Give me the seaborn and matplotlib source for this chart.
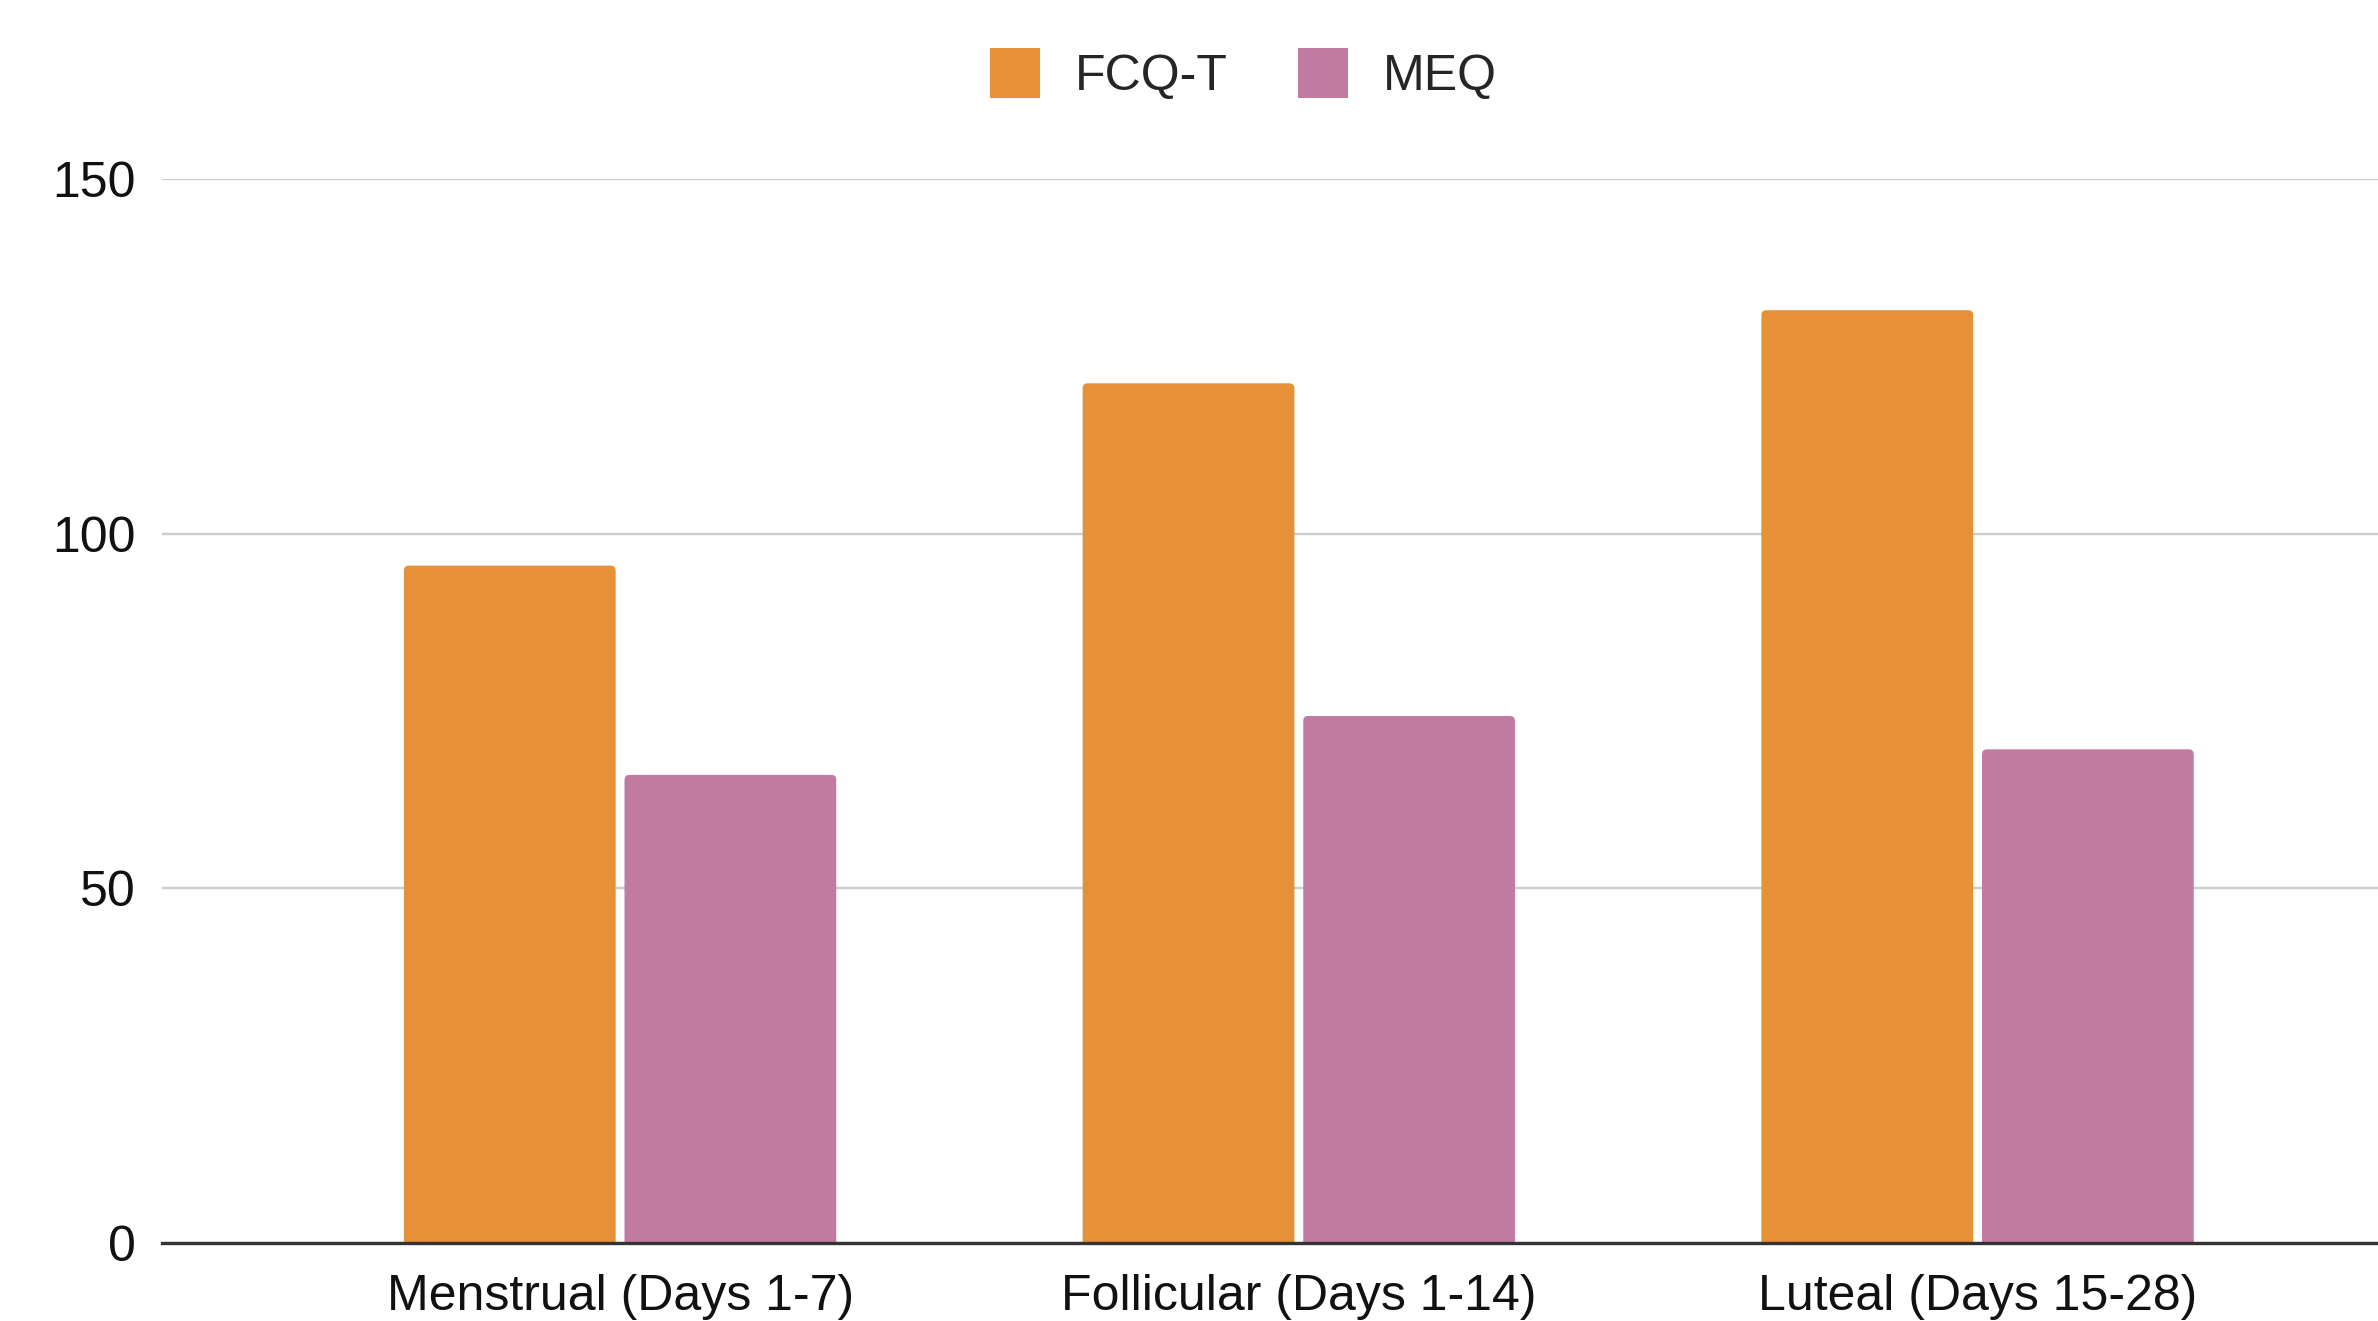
import matplotlib
matplotlib.use("Agg")
import matplotlib.pyplot as plt
from matplotlib.patches import Patch, FancyBboxPatch
import seaborn as sns
import pandas as pd

phases = ["Menstrual (Days 1-7)", "Follicular (Days 1-14)", "Luteal (Days 15-28)"]
series = ["FCQ-T", "MEQ"]
fcq_t = [95.5, 121.2, 131.5]
meq = [66.0, 74.3, 69.6]
colors = ["#E69138", "#C27BA0"]
y_ticks = [0, 50, 100, 150]

df = pd.DataFrame({
    "phase": phases * 2,
    "series": [series[0]] * 3 + [series[1]] * 3,
    "value": fcq_t + meq,
})

sns.set_theme(style="white")
plt.rcParams["font.family"] = ["Liberation Sans", "DejaVu Sans"]

fig = plt.figure(figsize=(23.78, 13.21), dpi=100)
ax = fig.add_axes([0.0681, 0.059, 0.9319, 0.8055])

sns.barplot(
    data=df, x="phase", y="value", hue="series", order=phases,
    hue_order=series, palette=colors, width=0.65, gap=0.04,
    saturation=1, legend=False, ax=ax, linewidth=0,
)

ax.set_ylim(0, 150)
ax.set_xlim(-0.675, 2.59)

# Round the top corners of the bars slightly
fig.canvas.draw()
px_x = ax.transData.transform((1, 0))[0] - ax.transData.transform((0, 0))[0]
px_y = ax.transData.transform((0, 1))[1] - ax.transData.transform((0, 0))[1]
radius_px = 5.0
for bar in list(ax.patches):
    x, y = bar.get_x(), bar.get_y()
    w, h = bar.get_width(), bar.get_height()
    fc = bar.get_facecolor()
    bar.set_visible(False)
    r = radius_px / px_x
    rounded = FancyBboxPatch(
        (x, y - 3), w, h + 3,
        boxstyle=f"round,pad=0,rounding_size={r}",
        mutation_aspect=px_x / px_y,
        facecolor=fc, edgecolor="none", linewidth=0, zorder=2,
    )
    ax.add_patch(rounded)

ax.set_yticks(y_ticks)
ax.set_yticklabels([str(t) for t in y_ticks])
ax.set_xlabel("")
ax.set_ylabel("")

ax.yaxis.grid(True, color="#cccccc", linewidth=1.7)
ax.xaxis.grid(False)
ax.set_axisbelow(True)
for side in ["top", "right", "left"]:
    ax.spines[side].set_visible(False)
ax.spines["bottom"].set_color("#333333")
ax.spines["bottom"].set_linewidth(2.4)
ax.spines["bottom"].set_zorder(5)

ax.tick_params(axis="y", length=0, pad=19, labelsize=36, labelcolor="#111111")
ax.tick_params(axis="x", length=0, pad=22, labelsize=36, labelcolor="#111111")

handles = [Patch(facecolor=c, edgecolor="none", label=s) for c, s in zip(colors, series)]
fig.legend(
    handles=handles, loc="center", bbox_to_anchor=(0.523, 0.944), ncol=2,
    frameon=False, fontsize=36, handlelength=1.0, handleheight=1.15,
    handletextpad=0.7, columnspacing=1.4,
)

fig.savefig("out.png", dpi=100, facecolor="white")
